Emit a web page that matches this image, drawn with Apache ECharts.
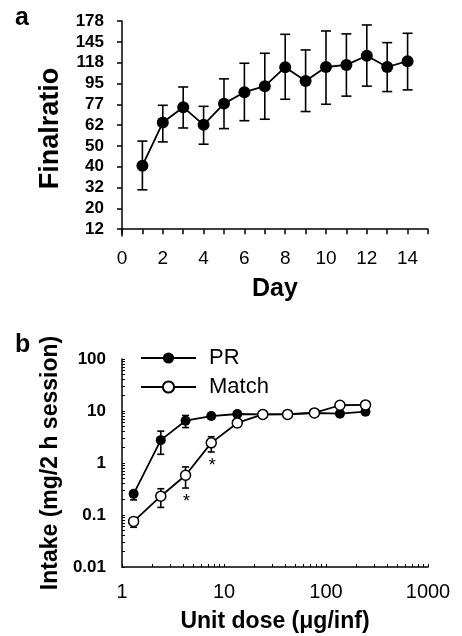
<!DOCTYPE html>
<html>
<head>
<meta charset="utf-8">
<script src="https://cdn.jsdelivr.net/npm/echarts@6/dist/echarts.min.js"></script>
<style>
  html, body { margin: 0; padding: 0; background: #fff; }
  #chart { width: 462px; height: 636px; }
</style>
</head>
<body>
<div id="chart"></div>
<script>
// panel a: final ratio per day, stored as step position on the ratio scale (0 = 12 ... 10 = 178)
var ratioTicks = ['12', '20', '32', '40', '50', '62', '77', '95', '118', '145', '178'];
var days = [1, 2, 3, 4, 5, 6, 7, 8, 9, 10, 11, 12, 13, 14];
var ratioStep = [3.05, 5.12, 5.86, 5.01, 6.03, 6.58, 6.87, 7.78, 7.12, 7.79, 7.89, 8.33, 7.79, 8.07];
var ratioLow = [1.89, 4.19, 4.86, 4.08, 4.83, 5.21, 5.28, 6.24, 5.65, 6.0, 6.39, 6.87, 6.61, 6.69];
var ratioHigh = [4.23, 5.95, 6.83, 5.9, 7.22, 7.97, 8.45, 9.36, 8.61, 9.52, 9.38, 9.81, 8.96, 9.41];

// panel b: intake vs unit dose
var doses = [1.3, 2.4, 4.2, 7.5, 13.5, 24, 42, 77, 137, 244];
var prIntake = [0.255, 2.75, 6.5, 8.0, 8.75, 8.6, 8.7, 9.15, 8.9, 9.7];
var prLow = [0.195, 1.47, 4.8, 7.0, 8.0, 8.6, 8.7, 9.15, 8.9, 9.7];
var prHigh = [0.29, 4.1, 8.2, 9.0, 9.5, 8.6, 8.7, 9.15, 8.9, 9.7];
var matchIntake = [0.0754, 0.23, 0.58, 2.44, 5.9, 8.6, 8.6, 9.2, 12.9, 13.1];
var matchLow = [0.058, 0.14, 0.33, 1.63, 5.0, 8.6, 8.6, 9.2, 12.9, 13.1];
var matchHigh = [0.085, 0.32, 0.84, 3.2, 6.6, 8.6, 8.6, 9.2, 12.9, 13.1];
var sigIdx = [2, 3];
var doseTicks = [1, 10, 100, 1000];
var intakeTicks = [0.01, 0.1, 1, 10, 100];

var FONT = '"Liberation Sans", Arial, sans-serif';

function logMinor(from, to) {
  var out = [];
  for (var d = from; d < to; d *= 10) {
    for (var k = 1; k < 10; k++) out.push(+(d * k).toPrecision(3));
  }
  out.push(to);
  return out;
}

function plain(v) { return String(+(+v).toPrecision(3)); }

function errorBars(cap) {
  return function (params, api) {
    var x = api.value(0);
    var lo = api.coord([x, api.value(1)]);
    var hi = api.coord([x, api.value(2)]);
    var st = { stroke: '#000', lineWidth: 1.6 };
    return {
      type: 'group',
      children: [
        { type: 'line', shape: { x1: lo[0], y1: lo[1], x2: hi[0], y2: hi[1] }, style: st },
        { type: 'line', shape: { x1: lo[0] - cap, y1: lo[1], x2: lo[0] + cap, y2: lo[1] }, style: st },
        { type: 'line', shape: { x1: hi[0] - cap, y1: hi[1], x2: hi[0] + cap, y2: hi[1] }, style: st }
      ]
    };
  };
}

var chart = echarts.init(document.getElementById('chart'));

var option = {
  backgroundColor: '#fff',
  animation: false,
  textStyle: { fontFamily: FONT, color: '#000' },
  graphic: [
    { type: 'text', left: 15, top: 6, style: { text: 'a', font: 'bold 25px ' + FONT, fill: '#000' } },
    { type: 'text', left: 15, top: 333, style: { text: 'b', font: 'bold 25px ' + FONT, fill: '#000' } }
  ],
  legend: {
    left: 135,
    top: 342,
    orient: 'vertical',
    itemWidth: 55,
    itemHeight: 14,
    itemGap: 7,
    data: ['PR', 'Match'],
    textStyle: { fontSize: 22, fontFamily: FONT, color: '#000', lineHeight: 22, padding: [0, 0, 0, 8] }
  },
  grid: [
    { left: 122, top: 21, right: 34, bottom: 400 },
    { left: 122, top: 359, right: 34, bottom: 69 }
  ],
  xAxis: [
    {
      gridIndex: 0, type: 'value', min: 0, max: 15, interval: 1,
      name: 'Day', nameLocation: 'middle', nameGap: 41,
      nameTextStyle: { fontSize: 25, fontWeight: 'bold', fontFamily: FONT, color: '#000' },
      axisLine: { lineStyle: { color: '#000', width: 1.5 } },
      axisTick: { show: true, length: 5, lineStyle: { color: '#000', width: 1.5 } },
      axisLabel: {
        margin: 13, fontSize: 19, color: '#000', fontFamily: FONT,
        formatter: function (v) { return v % 2 ? '' : String(v); }
      },
      splitLine: { show: false }
    },
    {
      gridIndex: 1, type: 'log', logBase: 10, min: 1, max: 1000,
      name: 'Unit dose (\u03bcg/inf)', nameLocation: 'middle', nameGap: 43,
      nameTextStyle: { fontSize: 23, fontWeight: 'bold', fontFamily: FONT, color: '#000' },
      axisLine: { lineStyle: { color: '#000', width: 1.5 } },
      axisTick: { show: true, inside: true, length: 3, customValues: logMinor(1, 1000), lineStyle: { color: '#000', width: 1 } },
      axisLabel: { margin: 15, fontSize: 20, color: '#000', fontFamily: FONT, customValues: doseTicks, formatter: plain },
      splitLine: { show: false }
    }
  ],
  yAxis: [
    {
      gridIndex: 0, type: 'value', min: -0.33, max: 10,
      name: 'Finalratio', nameLocation: 'middle', nameGap: 58,
      nameTextStyle: { fontSize: 27, fontWeight: 'bold', fontFamily: FONT, color: '#000' },
      axisLine: { show: true, lineStyle: { color: '#000', width: 1.5 } },
      axisTick: { show: true, length: 5, customValues: [0, 1, 2, 3, 4, 5, 6, 7, 8, 9, 10], lineStyle: { color: '#000', width: 1.5 } },
      axisLabel: {
        margin: 18, fontSize: 17, fontWeight: 'bold', color: '#000', fontFamily: FONT,
        customValues: [0, 1, 2, 3, 4, 5, 6, 7, 8, 9, 10],
        formatter: function (v) { return ratioTicks[Math.round(v)]; }
      },
      splitLine: { show: false }
    },
    {
      gridIndex: 1, type: 'log', logBase: 10, min: 0.01, max: 100,
      name: 'Intake (mg/2 h session)', nameLocation: 'middle', nameGap: 60,
      nameTextStyle: { fontSize: 23, fontWeight: 'bold', fontFamily: FONT, color: '#000' },
      axisLine: { show: true, lineStyle: { color: '#000', width: 1.5 } },
      axisTick: { show: true, inside: true, length: 3, customValues: logMinor(0.01, 100), lineStyle: { color: '#000', width: 1 } },
      axisLabel: {
        margin: 16, fontSize: 17, fontWeight: 'bold', color: '#000', fontFamily: FONT,
        customValues: intakeTicks, formatter: plain
      },
      splitLine: { show: false }
    }
  ],
  series: [
    {
      type: 'custom', xAxisIndex: 0, yAxisIndex: 0, z: 1,
      renderItem: errorBars(5),
      encode: { x: 0, y: [1, 2] },
      data: days.map(function (d, i) { return [d, ratioLow[i], ratioHigh[i]]; })
    },
    {
      type: 'line', xAxisIndex: 0, yAxisIndex: 0, z: 3,
      symbol: 'circle', symbolSize: 12,
      lineStyle: { color: '#000', width: 1.8 },
      itemStyle: { color: '#000' },
      data: days.map(function (d, i) { return [d, ratioStep[i]]; })
    },
    {
      type: 'custom', xAxisIndex: 1, yAxisIndex: 1, z: 1,
      renderItem: errorBars(3.5),
      encode: { x: 0, y: [1, 2] },
      data: doses.map(function (d, i) { return [d, prLow[i], prHigh[i]]; })
    },
    {
      type: 'custom', xAxisIndex: 1, yAxisIndex: 1, z: 1,
      renderItem: errorBars(3.5),
      encode: { x: 0, y: [1, 2] },
      data: doses.map(function (d, i) { return [d, matchLow[i], matchHigh[i]]; })
    },
    {
      name: 'PR', type: 'line', xAxisIndex: 1, yAxisIndex: 1, z: 3,
      symbol: 'circle', symbolSize: 10,
      lineStyle: { color: '#000', width: 1.8 },
      itemStyle: { color: '#000' },
      data: doses.map(function (d, i) { return [d, prIntake[i]]; })
    },
    {
      name: 'Match', type: 'line', xAxisIndex: 1, yAxisIndex: 1, z: 4,
      symbol: 'circle', symbolSize: 10,
      lineStyle: { color: '#000', width: 1.8 },
      itemStyle: { color: '#fff', borderColor: '#000', borderWidth: 1.5 },
      data: doses.map(function (d, i) { return [d, matchIntake[i]]; })
    },
    {
      type: 'custom', xAxisIndex: 1, yAxisIndex: 1, z: 5,
      renderItem: function (params, api) {
        var p = api.coord([api.value(0), api.value(1)]);
        return {
          type: 'text',
          style: { text: '*', x: p[0] + 1, y: p[1] + 14, font: '18px ' + FONT, fill: '#000', align: 'center', verticalAlign: 'middle' }
        };
      },
      encode: { x: 0, y: 1 },
      data: sigIdx.map(function (i) { return [doses[i], matchLow[i]]; })
    }
  ]
};

chart.setOption(option);
</script>
</body>
</html>
